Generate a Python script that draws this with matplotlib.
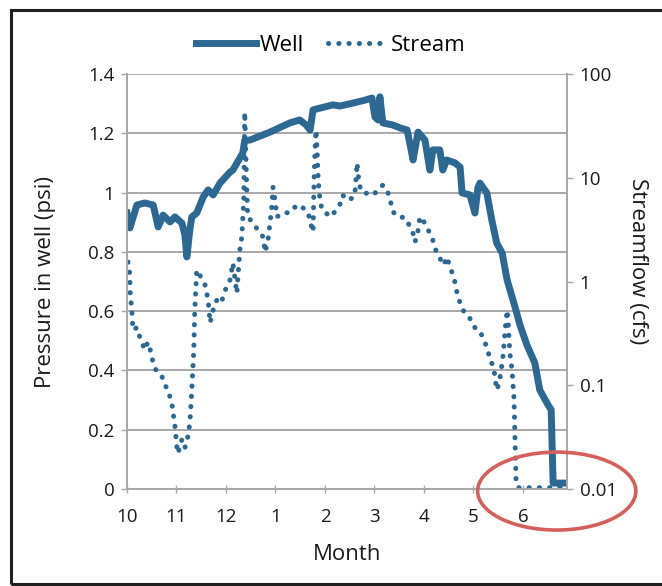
import matplotlib.pyplot as plt
from matplotlib.patches import Ellipse, Rectangle
from matplotlib.lines import Line2D

plt.rcParams['font.family'] = ['Open Sans', 'DejaVu Sans']

# months since Oct 1 (tick labels are calendar months)
month_ticks = [0, 1, 2, 3, 4, 5, 6, 7, 8]
month_labels = ['10', '11', '12', '1', '2', '3', '4', '5', '6']

well_t = [0.00, 0.06, 0.20, 0.36, 0.53, 0.63, 0.73, 0.87, 0.97, 1.11, 1.17, 1.21,
          1.27, 1.31, 1.41, 1.54, 1.64, 1.74, 1.88, 2.08, 2.14, 2.34, 2.38, 2.48,
          2.89, 3.29, 3.49, 3.62, 3.70, 3.76, 3.90, 4.16, 4.30, 4.57, 4.81, 4.95,
          5.01, 5.07, 5.11, 5.17, 5.37, 5.52, 5.66, 5.72, 5.78, 5.88, 6.02, 6.12,
          6.18, 6.32, 6.38, 6.46, 6.63, 6.73, 6.77, 6.93, 7.03, 7.09, 7.13, 7.27,
          7.37, 7.47, 7.58, 7.68, 7.74, 7.84, 7.94, 8.08, 8.24, 8.34, 8.51, 8.57,
          8.61, 8.81]
well_psi = [0.931, 0.881, 0.958, 0.965, 0.958, 0.884, 0.924, 0.901, 0.918, 0.897, 0.857, 0.783,
            0.874, 0.918, 0.931, 0.985, 1.009, 0.992, 1.032, 1.069, 1.076, 1.134, 1.177, 1.177,
            1.204, 1.235, 1.245, 1.228, 1.211, 1.279, 1.285, 1.296, 1.292, 1.302, 1.312, 1.319,
            1.255, 1.245, 1.323, 1.235, 1.228, 1.218, 1.211, 1.161, 1.110, 1.204, 1.177, 1.076,
            1.144, 1.144, 1.076, 1.110, 1.100, 1.086, 0.999, 0.992, 0.931, 1.016, 1.032, 0.999,
            0.908, 0.830, 0.796, 0.705, 0.671, 0.614, 0.553, 0.486, 0.425, 0.334, 0.283, 0.267,
            0.020, 0.020]

stream_t = [0.02, 0.06, 0.06, 0.10, 0.12, 0.20, 0.26, 0.36, 0.42, 0.46, 0.53, 0.61,
            0.71, 0.77, 0.83, 0.91, 0.97, 1.01, 1.03, 1.11, 1.17, 1.23, 1.27, 1.31,
            1.35, 1.37, 1.41, 1.47, 1.58, 1.64, 1.68, 1.74, 1.84, 1.92, 2.02, 2.08,
            2.14, 2.22, 2.28, 2.32, 2.36, 2.38, 2.40, 2.42, 2.44, 2.55, 2.65, 2.75,
            2.79, 2.85, 2.89, 2.93, 2.95, 2.99, 3.03, 3.15, 3.29, 3.39, 3.49, 3.60,
            3.66, 3.72, 3.76, 3.78, 3.80, 3.82, 3.84, 3.86, 3.88, 3.90, 3.94, 4.00,
            4.10, 4.20, 4.30, 4.36, 4.44, 4.57, 4.61, 4.65, 4.67, 4.71, 4.77, 4.85,
            4.97, 5.07, 5.17, 5.25, 5.31, 5.35, 5.41, 5.52, 5.62, 5.66, 5.72, 5.78,
            5.82, 5.88, 5.92, 5.98, 6.06, 6.12, 6.18, 6.24, 6.28, 6.34, 6.40, 6.46,
            6.50, 6.57, 6.63, 6.67, 6.73, 6.79, 6.87, 6.93, 6.99, 7.07, 7.13, 7.19,
            7.29, 7.33, 7.39, 7.43, 7.47, 7.52, 7.56, 7.60, 7.64, 7.68, 7.70, 7.72,
            7.74, 7.78, 7.82, 7.84, 7.86, 7.90, 8.75]
stream_cfs = [1.54, 1.16, 0.83, 0.51, 0.34, 0.36, 0.29, 0.22, 0.26, 0.23, 0.164, 0.131,
              0.120, 0.100, 0.090, 0.065, 0.040, 0.025, 0.022, 0.030, 0.025, 0.032, 0.043, 0.090,
              0.22, 0.53, 1.29, 1.16, 0.92, 0.66, 0.40, 0.53, 0.71, 0.66, 0.92, 1.03,
              1.51, 0.77, 2.01, 2.69, 6.1, 43.0, 18.5, 7.6, 4.2, 3.66, 3.1, 2.69,
              1.92, 2.51, 3.66, 5.5, 8.1, 6.1, 4.2, 4.6, 4.6, 5.2, 5.5, 4.9,
              4.6, 3.5, 3.0, 9.5, 19.4, 28.8, 18.5, 10.6, 7.6, 6.1, 4.9, 4.7,
              4.2, 4.7, 5.5, 6.8, 6.1, 6.4, 7.6, 13.9, 10.6, 8.1, 7.1, 7.1,
              6.8, 7.6, 8.5, 7.6, 6.5, 5.1, 4.4, 4.2, 4.1, 3.9, 3.3, 2.9,
              2.4, 3.1, 4.2, 3.9, 3.35, 2.9, 2.5, 2.0, 1.88, 1.61, 1.44, 1.72,
              1.51, 1.21, 0.97, 0.77, 0.62, 0.53, 0.46, 0.44, 0.38, 0.34, 0.33, 0.29,
              0.22, 0.175, 0.157, 0.126, 0.090, 0.105, 0.140, 0.196, 0.34, 0.53, 0.43, 0.27,
              0.196, 0.140, 0.072, 0.030, 0.0122, 0.0103, 0.0103]

blue = '#2C6892'
grid_c = '#A8A8A8'
txt_c = '#1a1a1a'
dots = (0, (0.05, 2.0))

fig = plt.figure(figsize=(6.62, 5.86), dpi=100)
ax = fig.add_axes([0.1918, 0.1655, 0.6647, 0.7082])
ax2 = ax.twinx()

ax.plot(well_t, well_psi, color=blue, lw=5.0, solid_joinstyle='round', zorder=3)
ax2.plot(stream_t, stream_cfs, color=blue, lw=3.6, linestyle=dots, dash_capstyle='round')

ax.set_xlim(0, 8.89)
ax.set_ylim(0, 1.4)
ax.set_yticks([0, 0.2, 0.4, 0.6, 0.8, 1.0, 1.2, 1.4])
ax.set_yticklabels(['0', '0.2', '0.4', '0.6', '0.8', '1', '1.2', '1.4'])
ax.set_xticks(month_ticks)
ax.set_xticklabels(month_labels)
ax.grid(axis='y', color=grid_c, lw=1.4)
ax.set_axisbelow(True)

ax2.set_yscale('log')
ax2.set_ylim(0.01, 100)
ax2.set_yticks([0.01, 0.1, 1, 10, 100])
ax2.set_yticklabels(['0.01', '0.1', '1', '10', '100'])
ax2.minorticks_off()

for a in (ax, ax2):
    for s in a.spines.values():
        s.set_color(grid_c)
        s.set_linewidth(1.4)
    a.spines['top'].set_visible(False)
    a.tick_params(colors=grid_c, labelcolor=txt_c, labelsize=13.5, length=4, width=1, pad=5)
ax.tick_params(axis='x', direction='inout', length=6, pad=11)

ax.set_xlabel('Month', fontsize=16, color=txt_c)
ax.xaxis.set_label_coords(0.5, -0.132)
ax.set_ylabel('Pressure in well (psi)', fontsize=16, color=txt_c, va='center')
ax.yaxis.set_label_coords(-0.186, 0.50)
ax2.set_ylabel('Streamflow (cfs)', fontsize=16, color=txt_c, rotation=270, va='center')
ax2.yaxis.set_label_coords(1.16, 0.55)

handles = [Line2D([], [], color=blue, lw=5.0),
           Line2D([], [], color=blue, lw=3.6, linestyle=dots, dash_capstyle='round')]
fig.legend(handles, ['Well', 'Stream'], loc='center', bbox_to_anchor=(0.5, 0.922),
           ncol=2, frameon=False, fontsize=16, handlelength=2.7, handletextpad=0.15,
           columnspacing=1.1)

# red annotation ellipse around the zero-flow period
fig.patches.append(Ellipse((0.841, 0.162), 0.239, 0.133, transform=fig.transFigure,
                           fill=False, ec='#D5605B', lw=2.6))
# scanned frame
fig.patches.append(Rectangle((0.016, 0.003), 1.2, 0.98, transform=fig.transFigure,
                             fill=False, ec='#202020', lw=2.2))

fig.savefig('out.png', dpi=100)
